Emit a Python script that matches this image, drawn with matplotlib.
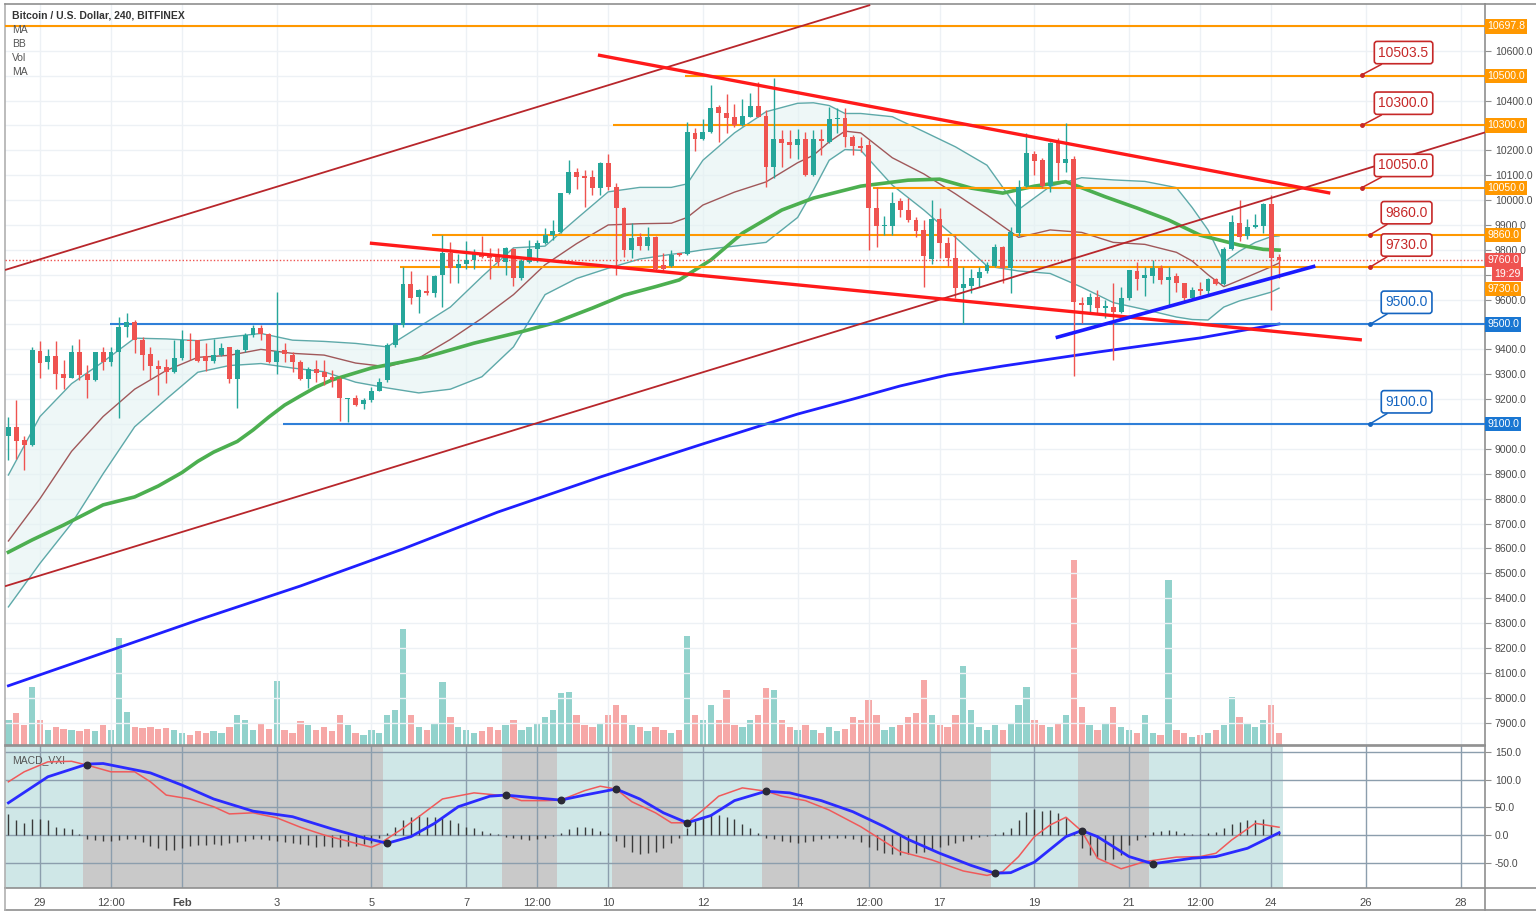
"""BTC/USD 4h チャート (BITFINEX) の再現."""

import matplotlib

matplotlib.use("Agg")

import matplotlib.pyplot as plt
import numpy as np
from matplotlib.colors import to_rgba
from matplotlib.lines import Line2D
from matplotlib.ticker import FormatStrFormatter, FuncFormatter
from matplotlib.transforms import blended_transform_factory

plt.rcParams["font.family"] = ["Liberation Sans", "DejaVu Sans"]

# --- 4h candles, index 0 = Jan 28 08:00, index 161 = Feb 24 08:00 ---
opens = [
    9052, 9087, 9036, 9017, 9393, 9349, 9373, 9301, 9286, 9389,
    9303, 9277, 9388, 9350, 9388, 9491, 9511, 9437, 9380, 9333,
    9330, 9310, 9366, 9437, 9437, 9373, 9354, 9377, 9408, 9281,
    9397, 9457, 9484, 9460, 9348, 9397, 9377, 9350, 9279, 9323,
    9310, 9290, 9281, 9200, 9204, 9180, 9196, 9234, 9277, 9417,
    9498, 9661, 9609, 9636, 9625, 9699, 9786, 9728, 9743, 9759,
    9782, 9779, 9775, 9750, 9803, 9685, 9752, 9802, 9829, 9859,
    9873, 10027, 10114, 10096, 10091, 10047, 10150, 10054, 9969, 9799,
    9850, 9815, 9853, 9739, 9736, 9786, 9783, 10270, 10245, 10274,
    10375, 10351, 10335, 10301, 10335, 10377, 10339, 10131, 10247, 10234,
    10221, 10247, 10100, 10247, 10234, 10324, 10331, 10254, 10217, 10221,
    9969, 9895, 9897, 9996, 9962, 9920, 9879, 9763, 9923, 9826,
    9768, 9645, 9655, 9686, 9713, 9735, 9813, 9726, 9867, 10057,
    10184, 10161, 10057, 10235, 10148, 10164, 9588, 9579, 9609, 9568,
    9572, 9552, 9605, 9715, 9686, 9696, 9729, 9679, 9695, 9666,
    9605, 9642, 9636, 9682, 9663, 9802, 9907, 9856, 9891, 9896,
    9983, 9773,
]
highs = [
    9129, 9196, 9052, 9410, 9435, 9400, 9435, 9357, 9417, 9441,
    9337, 9390, 9410, 9410, 9531, 9547, 9518, 9451, 9410, 9357,
    9360, 9437, 9478, 9467, 9437, 9424, 9440, 9427, 9410, 9400,
    9464, 9498, 9498, 9467, 9630, 9427, 9390, 9357, 9330, 9357,
    9357, 9317, 9290, 9204, 9217, 9204, 9247, 9283, 9424, 9505,
    9732, 9715, 9641, 9699, 9699, 9859, 9833, 9782, 9835, 9802,
    9855, 9808, 9808, 9812, 9806, 9762, 9839, 9839, 9886, 9920,
    10029, 10163, 10127, 10120, 10120, 10154, 10185, 10067, 9973, 9909,
    9866, 9890, 9855, 9786, 9799, 9788, 10314, 10288, 10324, 10462,
    10381, 10426, 10388, 10408, 10431, 10475, 10361, 10489, 10281, 10281,
    10284, 10274, 10281, 10284, 10375, 10372, 10372, 10261, 10252, 10241,
    10053, 9935, 10033, 10009, 10009, 9933, 9920, 10000, 9970, 9853,
    9859, 9732, 9722, 9733, 9753, 9824, 9816, 9893, 10081, 10271,
    10199, 10168, 10235, 10248, 10308, 10177, 9612, 9628, 9639, 9599,
    9666, 9652, 9719, 9753, 9733, 9760, 9739, 9730, 9706, 9666,
    9652, 9672, 9686, 9686, 9813, 9940, 10000, 9923, 9943, 9987,
    10021, 9784,
]
lows = [
    8955, 8958, 8915, 9010, 9283, 9323, 9239, 9239, 9283, 9277,
    9203, 9274, 9317, 9333, 9123, 9451, 9384, 9317, 9279, 9216,
    9263, 9306, 9357, 9357, 9350, 9313, 9344, 9373, 9263, 9163,
    9390, 9451, 9437, 9344, 9303, 9350, 9310, 9277, 9243, 9270,
    9256, 9247, 9113, 9109, 9172, 9160, 9190, 9234, 9270, 9410,
    9491, 9581, 9545, 9618, 9612, 9572, 9665, 9665, 9721, 9721,
    9766, 9681, 9735, 9699, 9656, 9679, 9748, 9752, 9825, 9839,
    9866, 10023, 10043, 9973, 10020, 10020, 10040, 9699, 9772, 9766,
    9799, 9799, 9718, 9715, 9732, 9775, 9779, 10197, 10243, 10270,
    10234, 10268, 10294, 10297, 10332, 10332, 10053, 10087, 10134, 10171,
    10167, 10096, 10096, 10181, 10231, 10268, 10214, 10181, 10194, 9799,
    9812, 9859, 9859, 9933, 9913, 9853, 9652, 9745, 9766, 9736,
    9607, 9500, 9626, 9652, 9706, 9733, 9666, 9626, 9856, 10054,
    10101, 10047, 10034, 10081, 10114, 9291, 9505, 9552, 9545, 9525,
    9358, 9545, 9599, 9639, 9615, 9668, 9663, 9579, 9632, 9592,
    9599, 9619, 9619, 9659, 9659, 9800, 9837, 9842, 9887, 9867,
    9559, 9686,
]
closes = [
    9087, 9033, 9017, 9397, 9346, 9373, 9301, 9286, 9389, 9297,
    9277, 9389, 9350, 9388, 9488, 9511, 9437, 9377, 9333, 9323,
    9310, 9366, 9437, 9433, 9353, 9353, 9377, 9404, 9281, 9397,
    9457, 9485, 9460, 9350, 9393, 9380, 9348, 9279, 9323, 9306,
    9290, 9277, 9204, 9204, 9176, 9196, 9234, 9270, 9417, 9498,
    9661, 9608, 9638, 9628, 9696, 9786, 9726, 9743, 9759, 9782,
    9772, 9766, 9752, 9808, 9685, 9755, 9802, 9826, 9859, 9877,
    10027, 10114, 10094, 10090, 10047, 10150, 10054, 9967, 9799, 9846,
    9815, 9850, 9725, 9725, 9779, 9779, 10274, 10247, 10274, 10372,
    10348, 10331, 10301, 10337, 10377, 10335, 10131, 10247, 10231, 10221,
    10247, 10100, 10247, 10237, 10325, 10331, 10252, 10217, 10211, 9970,
    9895, 9899, 9990, 9960, 9920, 9875, 9775, 9923, 9826, 9768,
    9645, 9661, 9686, 9709, 9739, 9813, 9726, 9873, 10051, 10188,
    10158, 10057, 10228, 10150, 10164, 9592, 9579, 9609, 9565, 9575,
    9552, 9608, 9719, 9682, 9699, 9729, 9679, 9692, 9668, 9605,
    9639, 9635, 9682, 9663, 9802, 9913, 9853, 9891, 9900, 9984,
    9769, 9760,
]
volumes = [
    250, 320, 200, 580, 250, 150, 180, 160, 150, 140,
    160, 140, 200, 150, 1070, 330, 180, 170, 180, 160,
    170, 150, 120, 100, 140, 120, 140, 120, 180, 300,
    250, 150, 220, 160, 640, 150, 120, 240, 200, 150,
    180, 140, 300, 200, 120, 100, 150, 120, 300, 350,
    1160, 300, 180, 150, 220, 630, 280, 180, 150, 120,
    140, 180, 150, 200, 250, 150, 180, 220, 280, 350,
    520, 530, 300, 200, 180, 220, 300, 400, 300, 200,
    180, 140, 180, 150, 120, 150, 1090, 300, 250, 400,
    250, 550, 200, 180, 250, 300, 570, 550, 250, 180,
    150, 200, 150, 120, 180, 140, 160, 280, 250, 450,
    300, 150, 180, 200, 280, 320, 650, 300, 200, 180,
    300, 790, 350, 180, 150, 200, 150, 220, 400, 580,
    250, 200, 180, 220, 300, 1850, 380, 200, 150, 220,
    380, 180, 150, 120, 300, 120, 100, 1650, 150, 120,
    80, 100, 120, 150, 200, 480, 280, 220, 180, 250,
    400, 120,
]
VOL_AXIS_MAX = 7410

# --- indicators (read at selected candle indices) ---
ma_green_idx = [0, 3, 7, 12, 16, 19, 22, 24, 26, 29, 31, 33, 35, 37, 39, 41,
                46, 50, 53, 59, 65, 69, 74, 78, 82, 85, 89, 93, 98, 102, 108,
                114, 118, 122, 126, 130, 134, 139, 143, 147, 151, 156, 159,
                161]
ma_green = [8585, 8634, 8694, 8775, 8807, 8851, 8905, 8950, 8987, 9030, 9076,
            9128, 9176, 9213, 9249, 9277, 9325, 9350, 9370, 9425, 9471, 9505,
            9566, 9618, 9652, 9679, 9759, 9867, 9960, 10008, 10056, 10080,
            10084, 10048, 10028, 10056, 10074, 10013, 9968, 9920, 9859, 9819,
            9802, 9799]

ma200_idx = [0, 12, 24, 37, 50, 62, 75, 88, 100, 107, 113, 119, 126, 138, 151,
             161]
ma200 = [8048, 8180, 8312, 8449, 8598, 8746, 8887, 9020, 9140, 9200, 9253,
         9297, 9333, 9389, 9446, 9502]

bb_idx = [0, 4, 8, 12, 16, 20, 24, 28, 32, 36, 40, 44, 48, 52, 56, 60, 64, 68,
          72, 76, 80, 84, 86, 88, 92, 96, 100, 102, 104, 106, 108, 112, 116,
          120, 124, 128, 132, 136, 140, 144, 148, 150, 152, 154, 156, 158,
          160, 161]
bb_upper = [8895, 9130, 9262, 9350, 9445, 9442, 9435, 9450, 9464, 9437, 9432,
            9424, 9410, 9490, 9570, 9692, 9808, 9815, 9925, 10033, 10051,
            10051, 10065, 10160, 10270, 10355, 10389, 10391, 10380, 10348,
            10348, 10335, 10275, 10214, 10140, 9962, 10055, 10090, 10081,
            10075, 10050, 9970, 9880, 9750, 9795, 9830, 9853, 9856]
bb_basis = [8630, 8800, 8990, 9130, 9240, 9315, 9368, 9376, 9400, 9384, 9377,
            9345, 9330, 9365, 9440, 9525, 9620, 9740, 9825, 9900, 9905, 9907,
            9930, 9980, 10032, 10073, 10150, 10180, 10234, 10277, 10270,
            10170, 10105, 10025, 9940, 9850, 9880, 9870, 9830, 9822, 9790,
            9755, 9700, 9652, 9678, 9705, 9732, 9747]
bb_lower = [8365, 8540, 8700, 8900, 9089, 9200, 9308, 9335, 9343, 9325, 9310,
            9268, 9245, 9225, 9240, 9290, 9410, 9620, 9685, 9726, 9763, 9782,
            9790, 9800, 9815, 9830, 9930, 10040, 10160, 10203, 10200, 10060,
            9960, 9850, 9735, 9715, 9705, 9650, 9588, 9560, 9530, 9520, 9518,
            9570, 9595, 9612, 9630, 9646]

# --- drawings: (index, price) end points ---
channel_upper = [(-0.43, 9719), (109.2, 10784)]
channel_lower = [(-0.43, 8448), (187.1, 10272)]
wedge_upper = [(74.7, 10583), (167.5, 10028)]
wedge_lower = [(45.8, 9827), (171.5, 9438)]
support_blue = [(132.7, 9447), (165.6, 9735)]

orange_levels = [10697.8, 10500.0, 10300.0, 10050.0, 9860.0, 9730.0]
orange_starts = [-0.43, 85.7, 76.6, 109.6, 53.7, 49.6]
blue_levels = [9500.0, 9100.0]
blue_starts = [12.9, 34.8]
last_price = 9760.0
countdown = "19:29"

callout_values = [10503.5, 10300.0, 10050.0, 9860.0, 9730.0, 9500.0, 9100.0]
callout_x = [171.5, 171.5, 171.5, 172.5, 172.5, 172.5, 172.5]

# --- MACD_VXI ---
macd_hist = [
    38, 27, 21, 28, 29, 27, 14, 12, 10, 2,
    -7, -9, -11, -11, -9, -7, -7, -12, -20, -24,
    -27, -27, -24, -20, -18, -18, -16, -18, -15, -12,
    -11, -7, -7, -9, -11, -12, -14, -16, -18, -21,
    -20, -21, -21, -20, -20, -16, -14, -6,
    4, 14, 27, 33, 36, 33, 32, 30, 27, 21, 14, 12, 8, 3,
    1,
    -3, -6, -8, -9, -8, -5, -2,
    4, 10, 14, 15, 12, 8, 3,
    -10, -22, -30, -34, -33, -30, -24, -15, -5,
    12, 25, 33, 38, 36, 33, 28, 20, 12, 4,
    -6, -8, -10, -12, -14, -12, -10, -8, -6, -5,
    -6, -8, -12, -22, -28, -32, -35, -36, -34, -32,
    -30, -27, -22, -18, -14, -10, -7, -4, -2,
    1, 5, 12, 27, 42, 47, 44, 45, 39, 33, 5,
    -24, -36, -42, -46, -44, -36, -18, -9, -3,
    6, 8, 9, 8, 3, 2, 2, 3, 6, 12, 20, 24, 27, 27, 28, 18, 8,
]
macd_blue_idx = [0, 5, 10, 12, 18, 22, 26, 31, 36, 41, 45, 48, 51, 54, 57, 61,
                 63, 66, 70, 73, 77, 80, 83, 86, 89, 92, 96, 99, 103, 107, 111,
                 114, 118, 122, 125, 127, 130, 134, 136, 138, 142, 145, 150,
                 153, 157, 161]
macd_blue = [58, 105, 128, 129, 112, 90, 65, 43, 33, 11, -5, -15, -3, 21, 51,
             70, 72, 68, 63, 72, 83, 65, 40, 22, 35, 62, 79, 76, 62, 42, 15,
             -8, -33, -55, -69, -68, -49, -3, 8, -3, -39, -52, -42, -39, -24, 4]
macd_red_idx = [0, 2, 5, 8, 10, 13, 16, 18, 20, 23, 26, 28, 31, 34, 37, 40, 44,
                46, 47, 50, 52, 55, 59, 62, 63, 65, 68, 70, 73, 75, 77, 79, 82,
                84, 86, 88, 90, 93, 96, 98, 101, 104, 108, 111, 113, 117, 121,
                124, 126, 128, 130, 132, 134, 136, 138, 141, 144, 148, 151,
                153, 155, 158, 161]
macd_red = [96, 114, 132, 133, 126, 114, 114, 96, 72, 65, 51, 38, 40, 31, 14,
            0, -15, -22, -16, 12, 33, 65, 76, 72, 72, 62, 62, 63, 80, 88, 83,
            60, 40, 22, 22, 45, 70, 85, 79, 70, 62, 45, 15, -12, -30, -45, -65,
            -73, -66, -39, -3, 18, 32, 7, -42, -61, -48, -40, -39, -33, -9,
            21, 14]
cross_idx = [10, 48, 63, 70, 77, 86, 96, 125, 136, 145]
cross_val = [126, -14, 72, 63, 83, 22, 79, -69, 7, -52]
# 背景帯の境界 (teal から交互に gray)
shade_edges = [-0.5, 9.5, 47.5, 62.5, 69.5, 76.5, 85.5, 95.5, 124.5, 135.5,
               144.5, 161.5]

tick_idx = [4, 13, 22, 34, 46, 58, 67, 76, 88, 100, 109, 118, 130, 142, 151,
            160, 172, 184]
tick_labels = ["29", "12:00", "Feb", "3", "5", "7", "12:00", "10", "12", "14",
               "12:00", "17", "19", "21", "12:00", "24", "26", "28"]
# 右側の価格ラベルのうちタグに隠れるもの
hidden_price_labels = [10700, 10500, 10300, 9700, 9500, 9100]

# --- styles ---
UP = "#26a69a"
DOWN = "#ef5350"
ORANGE = "#ff9800"
LEVEL_BLUE = "#2f7fd8"
CALLOUT_RED = "#c62828"
CALLOUT_BLUE = "#1565c0"
GRID = "#edf1f5"
AXIS_GRAY = "#8f8f8f"
TEXT = "#4a4a4a"

W, H = 1536, 918
fig = plt.figure(figsize=(W / 100, H / 100), dpi=100)
fig.patch.set_facecolor("white")
ax = fig.add_axes([5 / W, 1 - 745 / H, 1480 / W, 741 / H])
axv = ax.twinx()
axm = fig.add_axes([5 / W, 1 - 888 / H, 1480 / W, 142 / H], sharex=ax)

ax.set_xlim(-0.43, 187.1)
ax.set_ylim(7810, 10788)
axm.set_ylim(-95.7, 160.6)
axv.set_ylim(0, VOL_AXIS_MAX)

# volume behind the price pane
axv.set_zorder(ax.get_zorder() - 1)
ax.patch.set_visible(False)
axv.yaxis.set_visible(False)
for s in axv.spines.values():
    s.set_visible(False)

x = np.arange(len(closes))
o = np.array(opens, float)
h = np.array(highs, float)
lo = np.array(lows, float)
c = np.array(closes, float)
up = c >= o
cols = np.where(up, UP, DOWN)

vol_cols = [to_rgba(UP, 0.5) if u else to_rgba(DOWN, 0.5) for u in up]
axv.bar(x, volumes, width=0.8, color=vol_cols, linewidth=0)

# grid
ax.set_yticks(np.arange(7900, 10701, 100))
ax.set_xticks(tick_idx)
ax.grid(True, color=GRID, lw=1)
ax.set_axisbelow(True)

# bollinger bands
ax.fill_between(bb_idx, bb_lower, bb_upper, color="#e3f2f2", alpha=0.6,
                lw=0, zorder=1)
ax.plot(bb_idx, bb_upper, color="#5ea9a9", lw=1, zorder=2)
ax.plot(bb_idx, bb_lower, color="#5ea9a9", lw=1, zorder=2)
ax.plot(bb_idx, bb_basis, color="#a0585a", lw=1, zorder=2)

# moving averages
ax.plot(ma200_idx, ma200, color="#1f1fff", lw=2, zorder=3)
ax.plot(ma_green_idx, ma_green, color="#4caf50", lw=2.6, zorder=3)

# horizontal levels
xr = ax.get_xlim()[1]
for lv, st in zip(orange_levels, orange_starts):
    ax.hlines(lv, st, xr, color=ORANGE, lw=1.5, zorder=3)
for lv, st in zip(blue_levels, blue_starts):
    ax.hlines(lv, st, xr, color=LEVEL_BLUE, lw=1.5, zorder=3)
ax.axhline(last_price, color=DOWN, lw=1, ls=(0, (1, 1.5)), zorder=3)

# trend lines
for pts, col, lw in [(channel_upper, "#b8262b", 1.3),
                     (channel_lower, "#b8262b", 1.3),
                     (wedge_upper, "#ff1a1a", 2.4),
                     (wedge_lower, "#ff1a1a", 2.4),
                     (support_blue, "#1a1aff", 2.6)]:
    (x0, p0), (x1, p1) = pts
    ax.plot([x0, x1], [p0, p1], color=col, lw=lw, zorder=6,
            solid_capstyle="butt")

# candles
ax.vlines(x, lo, h, colors=cols, lw=1, zorder=4)
body = np.maximum(np.abs(c - o), 5)
ax.bar(x, body, bottom=np.minimum(o, c), width=0.62, color=cols,
       linewidth=0, zorder=5)

# callouts
for val, cx in zip(callout_values, callout_x):
    col = CALLOUT_BLUE if val <= 9500 else CALLOUT_RED
    dx = 30 if cx < 172 else 26.5
    ax.annotate(f"{val:.1f}", xy=(cx, val), xytext=(dx, 16),
                textcoords="offset points", ha="center", va="center",
                fontsize=10, color=col, zorder=9, annotation_clip=False,
                bbox=dict(boxstyle="round,pad=0.3,rounding_size=0.2",
                          fc="white", ec=col, lw=1.2),
                arrowprops=dict(arrowstyle="-", color=col, lw=1.1,
                                shrinkA=0, shrinkB=0))
    ax.plot(cx, val, "o", ms=2.5, color=col, zorder=9)

# right price scale
ax.yaxis.tick_right()
ax.yaxis.set_major_formatter(FuncFormatter(
    lambda v, _: "" if round(v) in hidden_price_labels else f"{v:.1f}"))
ax.tick_params(axis="y", labelsize=7.5, colors=TEXT, length=4, pad=3,
               color=AXIS_GRAY)
ax.tick_params(axis="x", length=0, labelbottom=False)

trans = blended_transform_factory(ax.transAxes, ax.transData)
tags = [(v, f"{v:.1f}", ORANGE) for v in orange_levels]
tags += [(v, f"{v:.1f}", "#1976d2") for v in blue_levels]
tags.append((last_price, f"{last_price:.1f}", DOWN))
for val, txt, col in tags:
    ypos = val - 88 if val == 9730.0 else val  # ラベル重なり回避
    ax.text(1.0016, ypos, txt, transform=trans, fontsize=7.6, color="white",
            ha="left", va="center", zorder=20, clip_on=False,
            bbox=dict(boxstyle="square,pad=0.2", fc=col, ec="none"))
ax.text(1.0062, last_price - 58, countdown, transform=trans, fontsize=7.6,
        color="white", ha="left", va="center", zorder=20, clip_on=False,
        bbox=dict(boxstyle="square,pad=0.2", fc=DOWN, ec="none"))

# legend texts
ax.text(7 / 1480, 1 - 12 / 741, "Bitcoin / U.S. Dollar, 240, BITFINEX",
        transform=ax.transAxes, fontsize=7.5, color="#333333",
        fontweight="bold", va="center", ha="left", zorder=20)
for k, name in enumerate(["MA", "BB", "Vol", "MA"]):
    ax.text(7 / 1480, 1 - (26 + 14 * k) / 741, name, transform=ax.transAxes,
            fontsize=7.5, color="#555555", va="center", ha="left", zorder=20)

# --- MACD pane ---
for k in range(len(shade_edges) - 1):
    col = "#cfe7e7" if k % 2 == 0 else "#c9c9c9"
    axm.axvspan(shade_edges[k], shade_edges[k + 1], color=col, lw=0,
                zorder=0.2)
axm.set_yticks([-50, 0, 50, 100, 150])
axm.grid(True, color=(0.55, 0.62, 0.68, 0.22), lw=1)
axm.set_axisbelow(True)
axm.vlines(x, 0, macd_hist, color="#3a3a3a", lw=1, zorder=3)
axm.plot(macd_red_idx, macd_red, color="#f05a5a", lw=1.1, zorder=4)
axm.plot(macd_blue_idx, macd_blue, color="#2b2bff", lw=2, zorder=5)
axm.scatter(cross_idx, cross_val, s=22, color="#2a2a35", zorder=6)
axm.text(7 / 1480, 1 - 14 / 142, "MACD_VXI", transform=axm.transAxes,
         fontsize=7.5, color="#555555", va="center", ha="left")

axm.yaxis.tick_right()
axm.yaxis.set_major_formatter(FormatStrFormatter("%.1f"))
axm.tick_params(axis="y", labelsize=7.5, colors=TEXT, length=4, pad=3,
                color=AXIS_GRAY)
axm.set_xticks(tick_idx)
axm.set_xticklabels(tick_labels)
axm.tick_params(axis="x", labelsize=8, colors=TEXT, length=0, pad=7)
for lab in axm.get_xticklabels():
    if lab.get_text() == "Feb":
        lab.set_fontweight("bold")

for a in (ax, axm):
    for s in a.spines.values():
        s.set_color(AXIS_GRAY)
        s.set_linewidth(1.2)
ax.spines["left"].set_color("#b0b0b0")
axm.spines["left"].set_color("#b0b0b0")

# outer frame lines
fig.add_artist(Line2D([5 / W, 1], [1 - 910 / H, 1 - 910 / H],
                      color=AXIS_GRAY, lw=1.2))
fig.add_artist(Line2D([1485 / W, 1485 / W], [1 - 910 / H, 1 - 888 / H],
                      color=AXIS_GRAY, lw=1.2))
fig.add_artist(Line2D([5 / W, 5 / W], [1 - 910 / H, 1 - 888 / H],
                      color="#b0b0b0", lw=1.2))
fig.add_artist(Line2D([1485 / W, 1], [1 - 888 / H, 1 - 888 / H],
                      color=AXIS_GRAY, lw=1.2))
fig.add_artist(Line2D([1485 / W, 1], [1 - 4 / H, 1 - 4 / H],
                      color=AXIS_GRAY, lw=1.2))

fig.savefig("out.png", dpi=100)
